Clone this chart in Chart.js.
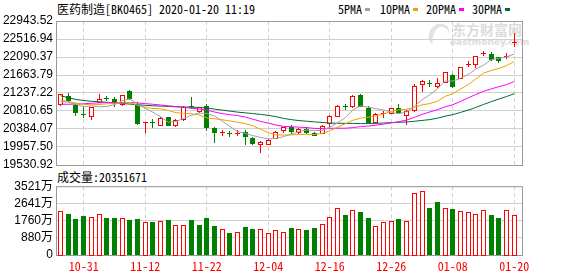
<!DOCTYPE html>
<html>
<head>
<meta charset="utf-8">
<script src="https://cdn.jsdelivr.net/npm/chart.js@4.4.1/dist/chart.umd.min.js"></script>
<style>
  body { margin: 0; background: #fff; width: 578px; height: 276px; overflow: hidden; position: relative; }
  .txt { position: absolute; font: 12px/12px "Noto Sans Mono CJK SC", "DejaVu Sans Mono", monospace; color: #000; white-space: pre; }
  .sw { position: absolute; width: 5px; height: 3px; top: 8px; }
  .wm { position: absolute; color: #dcdcdc; font-weight: bold; white-space: pre; }
  .logo { position: absolute; left: 429px; top: 23px; width: 14px; height: 20px; border-left: 5px solid #e2e2e2; border-top: 3px solid #e2e2e2; border-radius: 60% 40% 50% 50%; transform: rotate(20deg); }
  canvas { position: absolute; left: 0; }
</style>
</head>
<body>
<div class="logo"></div>
<div class="wm" style="left:452px;top:22px;font:bold 14px/14px 'Noto Sans CJK SC';">东方财富网</div>
<div class="wm" style="left:450px;top:38px;font:bold 9px/9px 'DejaVu Sans';">eastmoney.com</div>
<div class="txt" style="left:57px;top:3px;">医药制造[BK0465] 2020-01-20 11:19</div>
<div class="txt" style="left:338px;top:3px;">5PMA</div><div class="sw" style="left:365px;background:#a0a0a0"></div>
<div class="txt" style="left:380px;top:3px;">10PMA</div><div class="sw" style="left:413px;background:#f0a000"></div>
<div class="txt" style="left:426px;top:3px;">20PMA</div><div class="sw" style="left:459px;background:#ff00ff"></div>
<div class="txt" style="left:472px;top:3px;">30PMA</div><div class="sw" style="left:505px;background:#006a30"></div>
<div class="txt" style="left:57px;top:171px;">成交量:20351671</div>
<canvas id="k" width="578" height="176" style="top:0"></canvas>
<canvas id="v" width="578" height="100" style="top:176px"></canvas>
<script>
// 日期 (交易日)
const dates = ['10-28','10-29','10-30','10-31','11-01','11-04','11-05','11-06','11-07','11-08',
  '11-11','11-12','11-13','11-14','11-15','11-18','11-19','11-20','11-21','11-22',
  '11-25','11-26','11-27','11-28','11-29','12-02','12-03','12-04','12-05','12-06',
  '12-09','12-10','12-11','12-12','12-13','12-16','12-17','12-18','12-19','12-20',
  '12-23','12-24','12-25','12-26','12-27','12-30','12-31','01-02','01-03','01-06',
  '01-07','01-08','01-09','01-10','01-13','01-14','01-15','01-16','01-17','01-20'];

// K线数据
const opens = [20982,21165,20958,20744,20684,21029,21120,21101,20970,21291,
  20970,20542,20554,20482,20661,20470,20625,20930,20815,20922,
  20418,20304,20285,20280,20309,20166,20023,20023,20173,20352,
  20442,20323,20380,20299,20299,20523,20703,20927,20918,21196,
  20879,20561,20756,20775,20879,20708,20839,21450,21481,21393,
  21498,21655,21593,21921,21933,22183,22164,22092,22083,22444];
const highs = [21220,21227,20970,20910,20910,21220,21172,21132,21189,21303,
  21029,20556,20613,20661,20673,20625,20922,21148,20910,20970,
  20423,20363,20325,20363,20363,20197,20090,20138,20328,20435,
  20482,20399,20428,20304,20470,20708,20946,20982,21184,21220,
  20918,20756,20799,20887,20982,20839,21450,21552,21545,21593,
  21743,21688,21862,21988,22111,22225,22211,22099,22187,22670];
const lows = [20958,21053,20720,20673,20613,21017,21077,20934,20958,21101,
  20494,20316,20435,20470,20470,20459,20601,20887,20791,20363,
  20085,20245,20209,20245,20019,20019,19828,20019,20161,20309,
  20299,20299,20286,20245,20292,20459,20696,20856,20910,20922,
  20554,20554,20680,20768,20768,20499,20815,21291,21393,21386,
  21493,21386,21588,21869,21845,22147,22028,21973,22076,22361];
const closes = [21208,21060,20780,20708,20899,21101,21098,20994,21184,21113,
  20518,20554,20542,20637,20482,20601,20915,20905,20899,20435,
  20309,20316,20268,20292,20209,20061,20085,20126,20323,20428,
  20340,20394,20316,20252,20459,20696,20934,20910,21172,20934,
  20561,20744,20768,20879,20784,20803,21393,21529,21469,21464,
  21736,21393,21854,21933,22107,22195,22045,22011,22107,22456];

// 成交量 (万)
const volumes = [2245,2109,1837,2007,1939,2092,1888,1888,1888,1786,
  1837,1684,1684,1735,1786,1531,1531,1786,1531,1888,
  1480,1327,1123,1174,1429,1327,1327,1123,1276,1174,
  1378,1327,1276,1378,1582,1939,2398,2041,2296,2194,
  1888,1480,1684,1735,1837,1735,3164,3266,2398,2705,
  2398,2347,2245,2194,2092,2296,2041,1888,2296,2035];

// 均线在图中最左边的值 (窗口之前的数据看不到, 从图上读)
const ma5Head = [21041,21017,20970,20910];
const ma10Head = [21077,21037,20998,20965,20958,20965,20982,20989,20998];
const ma20Head = [20970,20970,20975,20982,20994,21005,21010,21012,21012,21010,
  21001,20986,20970,20953,20934,20915,20896,20877,20856];
const ma30Head = [21172,21124,21084,21060,21041,21029,21017,21005,20989,20975,
  20958,20946,20934,20927,20920,20910,20906,20901,20896,20880,
  20856,20832,20808,20784,20768,20749,20730,20708,20677];

// 刻度
const priceTicks = [19530.92,19957.50,20384.07,20810.65,21237.22,21663.79,22090.37,22516.94,22943.52];
const volTicks = [0,880,1760,2641,3521];
const dateTicks = [3,11,19,27,35,43,51,59];

const RED = '#ff0000';
const GREEN = '#008000';
const GRID = '#d0d0d0';
const FRAME = '#999999';
const monoFont = '"Noto Sans Mono CJK SC", "DejaVu Sans Mono", monospace';
const tickFont = '"Liberation Sans", "Noto Sans CJK SC", sans-serif';

function movingAvg(n, head) {
  return closes.map((c, i) => {
    if (i < n - 1) return head[i];
    let s = 0;
    for (let k = i - n + 1; k <= i; k++) s += closes[k];
    return s / n;
  });
}

function frame(ctx, a) {
  ctx.strokeStyle = FRAME;
  ctx.lineWidth = 1;
  ctx.strokeRect(a.left + 0.5, a.top + 0.5, a.right - a.left, a.bottom - a.top);
}

// 画K线
const candlePlugin = {
  id: 'candles',
  beforeDatasetsDraw(chart) {
    const { ctx, chartArea, scales: { x, y } } = chart;
    ctx.save();
    frame(ctx, chartArea);
    opens.forEach((o, i) => {
      const c = closes[i];
      const up = c >= o;
      const col = Math.round(x.getPixelForValue(i) - 0.5);
      const yh = Math.round(y.getPixelForValue(highs[i]));
      const yl = Math.round(y.getPixelForValue(lows[i]));
      const yt = Math.round(y.getPixelForValue(Math.max(o, c)));
      const yb = Math.round(y.getPixelForValue(Math.min(o, c)));
      ctx.fillStyle = up ? RED : GREEN;
      ctx.fillRect(col, yh, 1, yl - yh + 1);
      if (yb - yt < 2) {
        ctx.fillRect(col - 2, yt, 5, 1); // 十字星
      } else if (up) {
        ctx.fillStyle = '#fff';
        ctx.fillRect(col - 1, yt + 1, 3, yb - yt - 1);
        ctx.strokeStyle = RED;
        ctx.strokeRect(col - 1.5, yt + 0.5, 4, yb - yt);
      } else {
        ctx.fillRect(col - 2, yt, 5, yb - yt + 1);
      }
    });
    ctx.restore();
  }
};

// 画成交量柱 (颜色按收盘价和前一天比)
const volPlugin = {
  id: 'vols',
  beforeDatasetsDraw(chart) {
    const { ctx, chartArea, scales: { x, y } } = chart;
    ctx.save();
    frame(ctx, chartArea);
    const base = Math.round(y.getPixelForValue(0));
    volumes.forEach((v, i) => {
      const up = i === 0 || closes[i] >= closes[i - 1];
      const col = Math.round(x.getPixelForValue(i) - 0.5);
      const top = Math.round(y.getPixelForValue(v));
      if (up) {
        ctx.fillStyle = '#fff';
        ctx.fillRect(col - 1, top + 1, 3, base - top - 1);
        ctx.strokeStyle = RED;
        ctx.strokeRect(col - 1.5, top + 0.5, 4, base - top);
      } else {
        ctx.fillStyle = GREEN;
        ctx.fillRect(col - 2, top, 5, base - top);
      }
    });
    ctx.restore();
  }
};

const xCommon = {
  type: 'linear',
  min: -0.6,
  max: 60,
  afterBuildTicks: s => { s.ticks = dateTicks.map(v => ({ value: v })); },
  grid: { color: GRID, drawTicks: false },
  border: { display: false, dash: [4, 3] }
};

const maLine = (label, n, head, color) => ({
  label: label,
  data: movingAvg(n, head).map((v, i) => ({ x: i, y: v })),
  borderColor: color,
  borderWidth: 1,
  pointRadius: 0,
  tension: 0,
  fill: false
});

new Chart(document.getElementById('k'), {
  type: 'line',
  data: {
    datasets: [
      maLine('5PMA', 5, ma5Head, '#a0a0a0'),
      maLine('10PMA', 10, ma10Head, '#f0a000'),
      maLine('20PMA', 20, ma20Head, '#ff00ff'),
      maLine('30PMA', 30, ma30Head, '#006a30')
    ]
  },
  options: {
    responsive: false,
    animation: false,
    layout: { padding: { top: 21, right: 56, bottom: 11, left: 0 } },
    plugins: { legend: { display: false }, tooltip: { enabled: false } },
    scales: {
      x: Object.assign({}, xCommon, { ticks: { display: false } }),
      y: {
        min: priceTicks[0],
        max: priceTicks[priceTicks.length - 1],
        afterBuildTicks: s => { s.ticks = priceTicks.map(v => ({ value: v })); },
        afterFit: s => { s.width = 56; },
        grid: { color: GRID, drawTicks: false },
        border: { display: false },
        ticks: {
          autoSkip: false,
          padding: 3,
          color: '#000',
          font: { family: tickFont, size: 12 },
          callback: v => v.toFixed(2)
        }
      }
    }
  },
  plugins: [candlePlugin]
});

new Chart(document.getElementById('v'), {
  type: 'line',
  data: { datasets: [] },
  options: {
    responsive: false,
    animation: false,
    layout: { padding: { top: 10, right: 56, bottom: 0, left: 0 } },
    plugins: { legend: { display: false }, tooltip: { enabled: false } },
    scales: {
      x: Object.assign({}, xCommon, {
        afterFit: s => { s.height = 21; },
        ticks: {
          autoSkip: false,
          maxRotation: 0,
          padding: 4,
          color: RED,
          font: { family: monoFont, size: 12 },
          callback: v => dates[v]
        }
      }),
      y: {
        min: 0,
        max: volTicks[volTicks.length - 1],
        afterBuildTicks: s => { s.ticks = volTicks.map(v => ({ value: v })); },
        afterFit: s => { s.width = 56; },
        grid: { color: GRID, drawTicks: false },
        border: { display: false },
        ticks: {
          autoSkip: false,
          padding: 3,
          color: '#000',
          font: { family: tickFont, size: 12 },
          callback: v => v === 0 ? '0' : v + '万'
        }
      }
    }
  },
  plugins: [volPlugin]
});
</script>
</body>
</html>
